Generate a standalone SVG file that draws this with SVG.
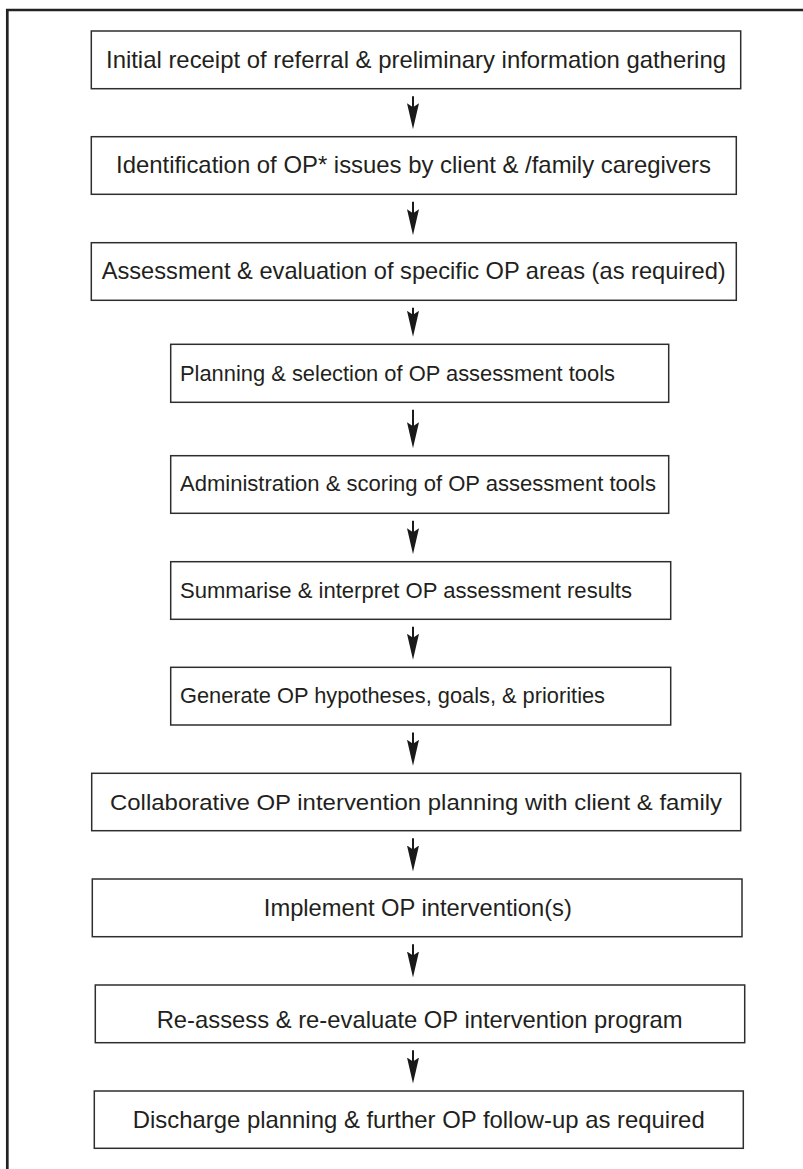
<svg xmlns="http://www.w3.org/2000/svg" width="803" height="1169" viewBox="0 0 803 1169">
<style>
.box{fill:#fff;stroke:#2e2e2e;stroke-width:1.5}
.c{font-family:"Liberation Sans",Arial,sans-serif;font-size:24px;fill:#231f20}
.s{font-family:"Liberation Sans",Arial,sans-serif;font-size:22px;fill:#231f20}
.arr{stroke:#1a1a1a;stroke-width:2;fill:none;marker-end:url(#head)}
.frame{fill:none;stroke:#222;stroke-width:2.7}
</style>
<defs>
<marker id="head" markerUnits="userSpaceOnUse" markerWidth="26" markerHeight="12" viewBox="0 0 26 12" refX="21" refY="6" orient="auto">
<path d="M0,0 L26,6 L0,12 L4,6 Z" fill="#1a1a1a"/>
</marker>
</defs>
<rect width="803" height="1169" fill="#fff"/>
<path class="frame" d="M7.3,1169 V10 H803"/>
<g id="n1"><rect class="box" x="91.3" y="31" width="649.4" height="57.7"/><text class="c" x="106" y="67.5" textLength="620" lengthAdjust="spacingAndGlyphs">Initial receipt of referral &amp; preliminary information gathering</text></g>
<g id="n2"><rect class="box" x="91.3" y="136.7" width="645" height="57.6"/><text class="c" x="116" y="173.2" textLength="595" lengthAdjust="spacingAndGlyphs">Identification of OP* issues by client &amp; /family caregivers</text></g>
<g id="n3"><rect class="box" x="91.3" y="242.7" width="645" height="57.6"/><text class="c" x="101.7" y="279" textLength="624" lengthAdjust="spacingAndGlyphs">Assessment &amp; evaluation of specific OP areas (as required)</text></g>
<g id="n4"><rect class="box" x="170.7" y="344.3" width="498" height="58"/><text class="s" x="180" y="380.5" textLength="435" lengthAdjust="spacingAndGlyphs">Planning &amp; selection of OP assessment tools</text></g>
<g id="n5"><rect class="box" x="170.7" y="455.7" width="498" height="57.6"/><text class="s" x="180" y="491" textLength="476" lengthAdjust="spacingAndGlyphs">Administration &amp; scoring of OP assessment tools</text></g>
<g id="n6"><rect class="box" x="170.7" y="561.7" width="500" height="57.6"/><text class="s" x="180" y="597.5" textLength="452" lengthAdjust="spacingAndGlyphs">Summarise &amp; interpret OP assessment results</text></g>
<g id="n7"><rect class="box" x="170.7" y="667.3" width="500" height="57.7"/><text class="s" x="180" y="702.5" textLength="425" lengthAdjust="spacingAndGlyphs">Generate OP hypotheses, goals, &amp; priorities</text></g>
<g id="n8"><rect class="box" x="91.7" y="773.3" width="649" height="57.4"/><text class="s" x="110" y="810" textLength="612" lengthAdjust="spacingAndGlyphs">Collaborative OP intervention planning with client &amp; family</text></g>
<g id="n9"><rect class="box" x="92.3" y="879" width="649.7" height="57.7"/><text class="c" x="263.8" y="915.5" textLength="308" lengthAdjust="spacingAndGlyphs">Implement OP intervention(s)</text></g>
<g id="n10"><rect class="box" x="95.3" y="985" width="649.4" height="57.7"/><text class="c" x="156.7" y="1027.5" textLength="526" lengthAdjust="spacingAndGlyphs">Re-assess &amp; re-evaluate OP intervention program</text></g>
<g id="n11"><rect class="box" x="94.3" y="1091" width="649" height="57.3"/><text class="c" x="132.7" y="1128" textLength="572" lengthAdjust="spacingAndGlyphs">Discharge planning &amp; further OP follow-up as required</text></g>
<g id="connectors">
<line class="arr" x1="413" y1="96.2" x2="413" y2="124.2"/>
<line class="arr" x1="413" y1="201.8" x2="413" y2="230.2"/>
<line class="arr" x1="413" y1="307.8" x2="413" y2="331.8"/>
<line class="arr" x1="413" y1="409.8" x2="413" y2="443.2"/>
<line class="arr" x1="413" y1="520.8" x2="413" y2="549.2"/>
<line class="arr" x1="413" y1="626.8" x2="413" y2="654.8"/>
<line class="arr" x1="413" y1="732.5" x2="413" y2="760.8"/>
<line class="arr" x1="413" y1="838.2" x2="413" y2="866.5"/>
<line class="arr" x1="413" y1="944.2" x2="413" y2="972.5"/>
<line class="arr" x1="413" y1="1050.2" x2="413" y2="1078.5"/>
</g>
</svg>
